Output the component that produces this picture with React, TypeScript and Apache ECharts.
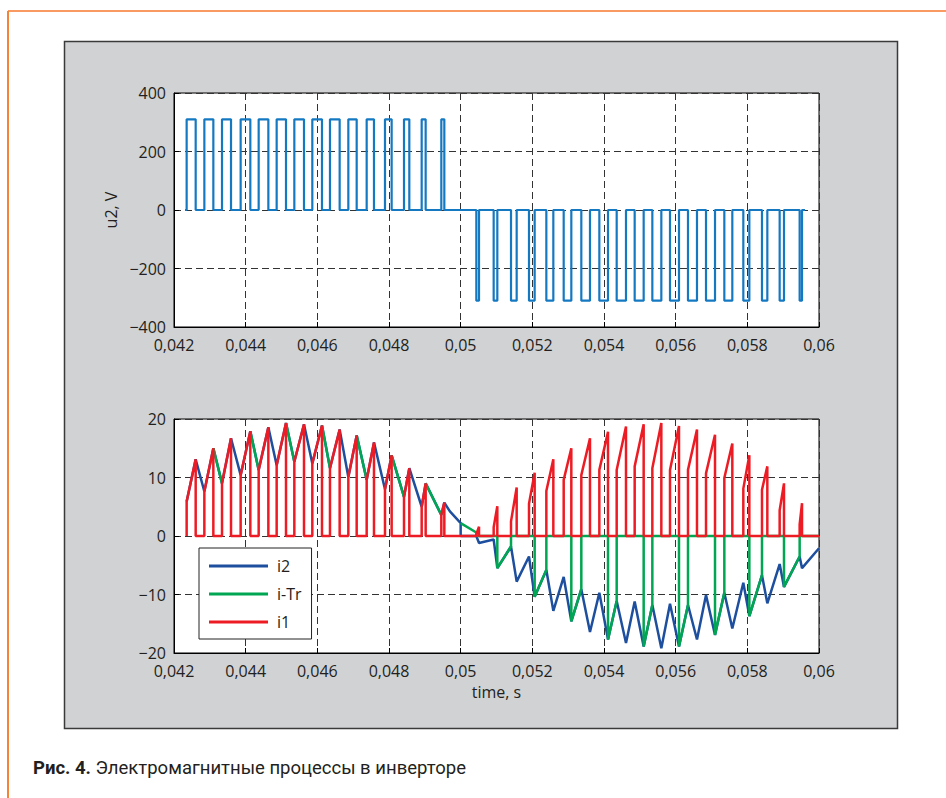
import React, { useEffect, useRef } from 'react';
import * as echarts from 'echarts';

// ---- time axis (seconds) ----
const X_MIN = 0.042;
const X_MAX = 0.06;
const X_STEP = 0.002;

// ---- positive half-wave pulses (u2 > 0), seconds ----
const posStart = [0.042353, 0.042847, 0.04334, 0.04386, 0.044363, 0.044865, 0.045358, 0.04586, 0.046353, 0.046865, 0.047377, 0.047888, 0.048419, 0.048912, 0.04946];
const posEnd = [0.042605, 0.043098, 0.043591, 0.04413, 0.044633, 0.045126, 0.045628, 0.04613, 0.046623, 0.047098, 0.047581, 0.048074, 0.048567, 0.049023, 0.049544];
// current at pulse start / pulse end (A)
const posIStart = [5.9, 7.6, 9.0, 10.4, 11.3, 12.1, 12.7, 12.4, 11.6, 10.1, 9.6, 8.0, 6.7, 5.0, 3.6];
const posIPeak = [13.1, 15.0, 16.7, 17.9, 18.6, 19.3, 19.1, 18.9, 18.2, 17.2, 16.0, 13.8, 11.6, 9.0, 5.7];
// tail of i2 after last positive pulse
const tailTimes = [0.0497, 0.05];
const tailI2 = [4.2, 2.2];
// i-Tr between half-waves
const bridgeTimes = [0.05, 0.050437];
const bridgeITr = [2.2, 0.6];

// ---- negative half-wave pulses (u2 < 0), seconds ----
const negStart = [0.050437, 0.050921, 0.051405, 0.051907, 0.052391, 0.052875, 0.053367, 0.05387, 0.054354, 0.054856, 0.055349, 0.055842, 0.056344, 0.056847, 0.057358, 0.057888, 0.058409, 0.058902, 0.05946];
const negEnd = [0.050512, 0.051023, 0.051563, 0.052065, 0.052586, 0.053088, 0.053609, 0.054112, 0.054614, 0.055107, 0.0556, 0.056093, 0.056595, 0.057098, 0.057581, 0.058056, 0.058558, 0.059023, 0.059526];
const negI1Start = [0.3, 1.5, 2.5, 5.5, 7.7, 9.6, 10.4, 11.3, 11.3, 11.9, 11.6, 11.3, 11.3, 10.7, 9.9, 8.1, 7.9, 4.4, 2.0];
const negI1Peak = [1.6, 5.1, 8.3, 10.8, 13.1, 15.0, 16.7, 17.8, 18.7, 19.1, 19.3, 18.8, 18.2, 17.3, 15.8, 13.8, 11.9, 9.0, 5.6];
const negI2Start = [0, -0.6, -1.8, -3.5, -5.8, -7.0, -9.1, -9.7, -11.1, -11.2, -11.8, -11.6, -11.8, -10.1, -9.7, -8.0, -6.7, -4.8, -3.5];
const negI2Low = [-1.2, -5.5, -7.8, -10.4, -12.8, -14.6, -16.4, -17.7, -18.3, -18.9, -19.2, -18.9, -17.7, -16.9, -15.8, -13.7, -11.5, -8.7, -5.5];
const i2EndValue = -2.1;

// ---- u2 ----
const u2Amp = 310;
const u2Begin = 0.042307;
const u2Finish = 0.059609;

// ---- axes ----
const u2Ticks = { min: -400, max: 400, interval: 200 };
const iTicks = { min: -20, max: 20, interval: 10 };

const seriesNames = ['i2', 'i-Tr', 'i1'];
const seriesColors = ['#1d4f9e', '#00a651', '#ed1c24'];
const u2Color = '#1579c2';

const FONT = '"Open Sans", sans-serif';
const TXT = '#231f20';

function buildU2() {
  const d: any[] = [[u2Begin, 0]];
  posStart.forEach((s, k) => {
    const e = posEnd[k];
    d.push([s, 0], [s, u2Amp], [e, u2Amp], [e, 0]);
  });
  negStart.forEach((s, k) => {
    const e = negEnd[k];
    d.push([s, 0], [s, -u2Amp], [e, -u2Amp], [e, 0]);
  });
  d.push([u2Finish, 0]);
  return d;
}

function buildI1() {
  const d: any[] = [];
  posStart.forEach((s, k) => {
    d.push([s, 0], [s, posIStart[k]], [posEnd[k], posIPeak[k]], [posEnd[k], 0]);
  });
  negStart.forEach((s, k) => {
    d.push([s, 0], [s, negI1Start[k]], [negEnd[k], negI1Peak[k]], [negEnd[k], 0]);
  });
  d.push([X_MAX, 0]);
  return d;
}

function buildI2() {
  const d: any[] = [];
  posStart.forEach((s, k) => {
    d.push([s, posIStart[k]], [posEnd[k], posIPeak[k]]);
  });
  tailTimes.forEach((t, j) => d.push([t, tailI2[j]]));
  d.push([tailTimes[tailTimes.length - 1], 0]);
  negStart.forEach((s, k) => {
    d.push([s, negI2Start[k]], [negEnd[k], negI2Low[k]]);
  });
  d.push([X_MAX, i2EndValue]);
  return d;
}

function buildITr() {
  const d: any[] = [];
  for (let k = 1; k < posStart.length - 1; k += 2) {
    d.push([posEnd[k], posIPeak[k]], [posStart[k + 1], posIStart[k + 1]], [posStart[k + 1], '-']);
  }
  bridgeTimes.forEach((t, j) => d.push([t, bridgeITr[j]]));
  d.push([bridgeTimes[bridgeTimes.length - 1], 0]);
  for (let k = 1; k < negStart.length - 1; k += 2) {
    d.push([negEnd[k], 0], [negEnd[k], negI2Low[k]], [negStart[k + 1], negI2Start[k + 1]], [negStart[k + 1], 0]);
  }
  d.push([X_MAX, 0]);
  return d;
}

const fmtX = (v: number) => String(+v.toFixed(3)).replace('.', ',');
const fmtY = (v: number) => (v < 0 ? '\u2212' + Math.abs(v) : String(v));

const gridLine = { show: true, lineStyle: { color: '#333', width: 1, type: [7, 4] as any } };

function xAxisCfg(gridIndex: number, name: string) {
  return {
    type: 'value',
    gridIndex,
    min: X_MIN,
    max: X_MAX,
    interval: X_STEP,
    name,
    nameLocation: 'middle',
    nameGap: 31,
    nameTextStyle: { fontFamily: FONT, fontSize: 16, color: TXT },
    axisLine: { show: true, onZero: false, lineStyle: { color: '#000', width: 1 } },
    axisTick: { show: true, inside: true, length: 5, lineStyle: { color: '#000' } },
    axisLabel: { formatter: fmtX, fontFamily: FONT, fontSize: 16, lineHeight: 15, color: TXT, margin: 10 },
    splitLine: gridLine,
  };
}

function yAxisCfg(gridIndex: number, t: { min: number; max: number; interval: number }, name: string) {
  return {
    type: 'value',
    gridIndex,
    min: t.min,
    max: t.max,
    interval: t.interval,
    name,
    nameLocation: 'middle',
    nameGap: 52,
    nameTextStyle: { fontFamily: FONT, fontSize: 16, color: TXT },
    axisLine: { show: true, onZero: false, lineStyle: { color: '#000', width: 1 } },
    axisTick: { show: true, inside: true, length: 5, lineStyle: { color: '#000' } },
    axisLabel: { formatter: fmtY, fontFamily: FONT, fontSize: 16, lineHeight: 14, color: TXT, margin: 8 },
    splitLine: gridLine,
  };
}

export default function App() {
  const ref = useRef<HTMLDivElement>(null);
  useEffect(() => {
    if (!ref.current) return;
    const chart = echarts.init(ref.current, undefined, { renderer: 'svg' });
    const option: any = {
      animation: false,
      backgroundColor: '#fff',
      graphic: [
        { type: 'line', z: -20, shape: { x1: 8, y1: 11, x2: 946, y2: 11 }, style: { stroke: '#f99a62', lineWidth: 2 } },
        { type: 'line', z: -20, shape: { x1: 8, y1: 11, x2: 8, y2: 798 }, style: { stroke: '#f58536', lineWidth: 2 } },
        { type: 'rect', z: -20, shape: { x: 64.5, y: 41.5, width: 833, height: 687 }, style: { fill: '#d1d2d4', stroke: '#3a3a3a', lineWidth: 1.5 } },
        {
          type: 'text',
          z: 10,
          x: 33,
          y: 768,
          style: {
            text: '{b|Рис. 4.} Электромагнитные процессы в инверторе',
            fontFamily: 'Roboto, sans-serif',
            fontSize: 18.5,
            fill: TXT,
            verticalAlign: 'middle',
            rich: { b: { fontWeight: 'bold', fontFamily: 'Roboto, sans-serif', fontSize: 18.5, fill: TXT } },
          },
        },
      ],
      grid: [
        { left: 174, top: 93, width: 645, height: 234, show: true, backgroundColor: '#fff', borderColor: '#000', borderWidth: 1 },
        { left: 174, top: 419, width: 645, height: 234, show: true, backgroundColor: '#fff', borderColor: '#000', borderWidth: 1 },
      ],
      xAxis: [xAxisCfg(0, ''), xAxisCfg(1, 'time, s')],
      yAxis: [yAxisCfg(0, u2Ticks, 'u2, V'), yAxisCfg(1, iTicks, '')],
      legend: {
        data: seriesNames,
        orient: 'vertical',
        left: 199,
        top: 548,
        icon: 'rect',
        itemWidth: 59,
        itemHeight: 3,
        itemGap: 12,
        padding: [10, 10, 9, 10],
        borderColor: '#222',
        borderWidth: 1,
        backgroundColor: '#fff',
        selectedMode: false,
        textStyle: { fontFamily: FONT, fontSize: 16, color: TXT, padding: [0, 0, 0, 4] },
      },
      series: [
        {
          name: 'u2',
          type: 'line',
          xAxisIndex: 0,
          yAxisIndex: 0,
          data: buildU2(),
          showSymbol: false,
          lineStyle: { color: u2Color, width: 2.2 },
          itemStyle: { color: u2Color },
        },
        {
          name: seriesNames[0],
          type: 'line',
          xAxisIndex: 1,
          yAxisIndex: 1,
          data: buildI2(),
          showSymbol: false,
          lineStyle: { color: seriesColors[0], width: 2.5 },
          itemStyle: { color: seriesColors[0] },
        },
        {
          name: seriesNames[1],
          type: 'line',
          xAxisIndex: 1,
          yAxisIndex: 1,
          data: buildITr(),
          showSymbol: false,
          connectNulls: false,
          lineStyle: { color: seriesColors[1], width: 2.5 },
          itemStyle: { color: seriesColors[1] },
        },
        {
          name: seriesNames[2],
          type: 'line',
          xAxisIndex: 1,
          yAxisIndex: 1,
          data: buildI1(),
          showSymbol: false,
          lineStyle: { color: seriesColors[2], width: 2.5 },
          itemStyle: { color: seriesColors[2] },
        },
      ],
    };
    chart.setOption(option);
    return () => chart.dispose();
  }, []);
  return <div ref={ref} style={{ position: 'absolute', left: 0, top: 0, width: 946, height: 798 }} />;
}
